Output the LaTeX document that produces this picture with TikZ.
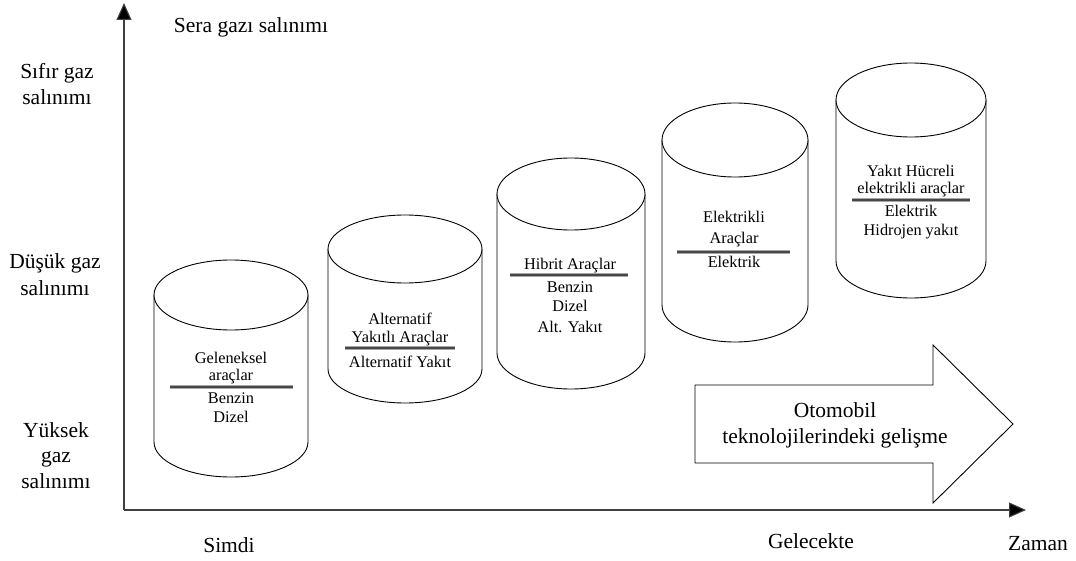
\documentclass[tikz,border=0pt]{standalone}
\usepackage{fontspec}
\setmainfont{Liberation Serif}
\usetikzlibrary{arrows.meta}
\begin{document}
\begin{tikzpicture}[x=1pt,y=-1pt,
  axis/.style={draw=black!75,line width=1.1pt,-{Triangle[width=15pt,length=17pt,fill=black]}},
  tank/.style={draw=black,line width=0.9pt},
  sepglow/.style={draw=black!35,line width=3.6pt},
  sepcore/.style={draw=black!72,line width=1.9pt},
  lbl/.style={font=\fontsize{21.5}{26}\selectfont,inner sep=0pt,anchor=base},
  ctext/.style={font=\fontsize{16.3}{19}\selectfont,inner sep=0pt,anchor=base},
  bigarrow/.style={draw=black,line width=0.9pt,fill=white}]
\useasboundingbox (0,0) rectangle (1076,561);

% axes
\coordinate (O) at (124,510);
\coordinate (Ytip) at (124,3);
\coordinate (Xtip) at (1026,510);
\draw[axis] (O) -- (Ytip);
\draw[axis] (O) -- (Xtip);

% axis labels
\node[lbl] (title) at (251,33) {Sera gazı salınımı};
\node[lbl] (zero1) at (57,79) {Sıfır gaz};
\node[lbl] (zero2) at (57,105) {salınımı};
\node[lbl] (low1) at (55,269) {Düşük gaz};
\node[lbl] (low2) at (55,295) {salınımı};
\node[lbl] (high1) at (56,437) {Yüksek};
\node[lbl] (high2) at (56,462) {gaz};
\node[lbl] (high3) at (56,488) {salınımı};
\node[lbl] (now) at (229,552) {Simdi};
\node[lbl] (future) at (811,548) {Gelecekte};
\node[lbl] (time) at (1038,550) {Zaman};

% cylinders: index / centre x / top ellipse y / bottom ellipse y / rx / ry
\foreach \n/\cx/\yt/\yb/\rx/\ry in {1/231/295/442/77/35, 2/405/249/369/77/34,
    3/571/194/353/74/36, 4/735/140/305/73/37, 5/911/100/261/75/37}{
  \draw[tank,fill=white] (\cx-\rx,\yt) -- (\cx-\rx,\yb)
    arc[start angle=180,end angle=360,x radius=\rx pt,y radius=\ry pt]
    -- (\cx+\rx,\yt);
  \draw[tank,fill=white] (\cx,\yt) ellipse[x radius=\rx pt,y radius=\ry pt];
}

% separators inside the cylinders
\foreach \n/\xa/\xb/\y in {1/170/293/387, 2/345/455/348, 3/510/628/275,
    4/677/790/252, 5/852/970/200}{
  \coordinate (s\n a) at (\xa,\y);
  \coordinate (s\n b) at (\xb,\y);
  \draw[sepglow] (s\n a) -- (s\n b);
  \draw[sepcore] (s\n a) -- (s\n b);
}

% cylinder texts
\node[ctext] (t1a) at (231,363) {Geleneksel};
\node[ctext] (t1b) at (231,380) {araçlar};
\node[ctext] (t1c) at (231,403) {Benzin};
\node[ctext] (t1d) at (231,422) {Dizel};

\node[ctext] (t2a) at (400,324) {Alternatif};
\node[ctext] (t2b) at (400,342) {Yakıtlı Araçlar};
\node[ctext] (t2c) at (400,367) {Alternatif Yakıt};

\node[ctext] (t3a) at (570,270) {Hibrit Araçlar};
\node[ctext] (t3b) at (570,293) {Benzin};
\node[ctext] (t3c) at (570,312) {Dizel};
\node[ctext] (t3d) at (570,332) {Alt. Yakıt};

\node[ctext] (t4a) at (734,223) {Elektrikli};
\node[ctext] (t4b) at (734,244) {Araçlar};
\node[ctext] (t4c) at (734,268) {Elektrik};

\node[ctext] (t5a) at (911,177) {Yakıt Hücreli};
\node[ctext] (t5b) at (911,194) {elektrikli araçlar};
\node[ctext] (t5c) at (911,217) {Elektrik};
\node[ctext] (t5d) at (911,236) {Hidrojen yakıt};

% development arrow
\draw[bigarrow] (695,385) -- (933,385) -- (933,345) -- (1013,424)
  -- (933,503) -- (933,463) -- (695,463) -- cycle;
\node[lbl] (dev1) at (835,417) {Otomobil};
\node[lbl] (dev2) at (835,443) {teknolojilerindeki gelişme};
\end{tikzpicture}
\end{document}
